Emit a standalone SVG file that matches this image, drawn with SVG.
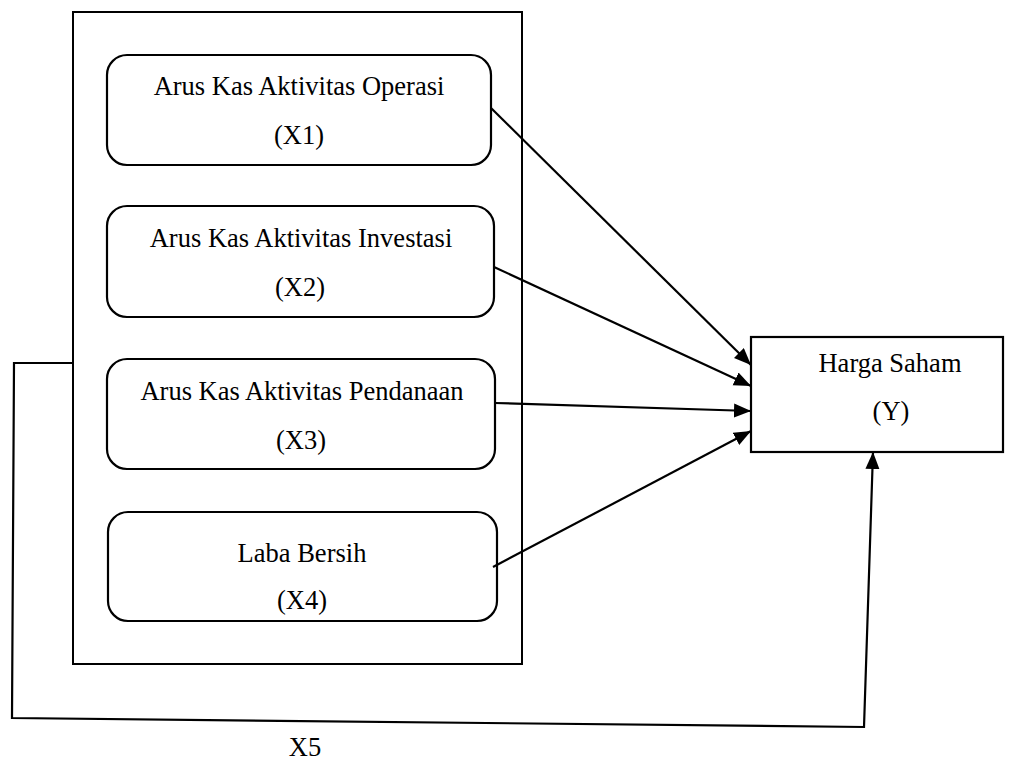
<svg xmlns="http://www.w3.org/2000/svg" width="1024" height="763" viewBox="0 0 1024 763">
<style>
.box{fill:#fff;stroke:#000;stroke-width:2.2}
.frame{fill:none;stroke:#000;stroke-width:2}
.t{font-family:"Liberation Serif","Times New Roman",serif;font-size:26.5px;fill:#000;text-anchor:middle}
.c{fill:none;stroke:#000;stroke-width:2.2}
</style>
<defs>
<marker id="ah" markerUnits="userSpaceOnUse" markerWidth="20" markerHeight="16" refX="17" refY="7" orient="auto">
<path d="M0,0 L17,7 L0,14 z" fill="#000"/>
</marker>
</defs>
<rect x="0" y="0" width="1024" height="763" fill="#fff"/>
<g id="group-frame"><rect class="frame" x="73" y="12" width="449" height="652"/></g>
<g id="x1"><rect class="box" x="107" y="55" width="384" height="110" rx="20"/>
<text class="t" x="299" y="95">Arus Kas Aktivitas Operasi</text>
<text class="t" x="299" y="144">(X1)</text></g>
<g id="x2"><rect class="box" x="107" y="206" width="387" height="111" rx="20"/>
<text class="t" x="301" y="247">Arus Kas Aktivitas Investasi</text>
<text class="t" x="300" y="296">(X2)</text></g>
<g id="x3"><rect class="box" x="107" y="359" width="388" height="110" rx="20"/>
<text class="t" x="302" y="400">Arus Kas Aktivitas Pendanaan</text>
<text class="t" x="301" y="449">(X3)</text></g>
<g id="x4"><rect class="box" x="108" y="512" width="389" height="109" rx="20"/>
<text class="t" x="302" y="562">Laba Bersih</text>
<text class="t" x="302" y="609">(X4)</text></g>
<g id="y"><rect class="box" x="751" y="337" width="252" height="115"/>
<text class="t" x="890" y="372">Harga Saham</text>
<text class="t" x="891" y="420">(Y)</text></g>
<g id="connectors">
<line class="c" x1="491" y1="108" x2="751" y2="365" marker-end="url(#ah)"/>
<line class="c" x1="494" y1="267" x2="751" y2="386" marker-end="url(#ah)"/>
<line class="c" x1="495" y1="403" x2="751" y2="411" marker-end="url(#ah)"/>
<line class="c" x1="493" y1="567" x2="751" y2="431" marker-end="url(#ah)"/>
<polyline class="c" points="73,363 14,363 12,718 864,727 873,452" marker-end="url(#ah)"/>
</g>
<g id="label-x5"><text class="t" x="305" y="756">X5</text></g>
</svg>
